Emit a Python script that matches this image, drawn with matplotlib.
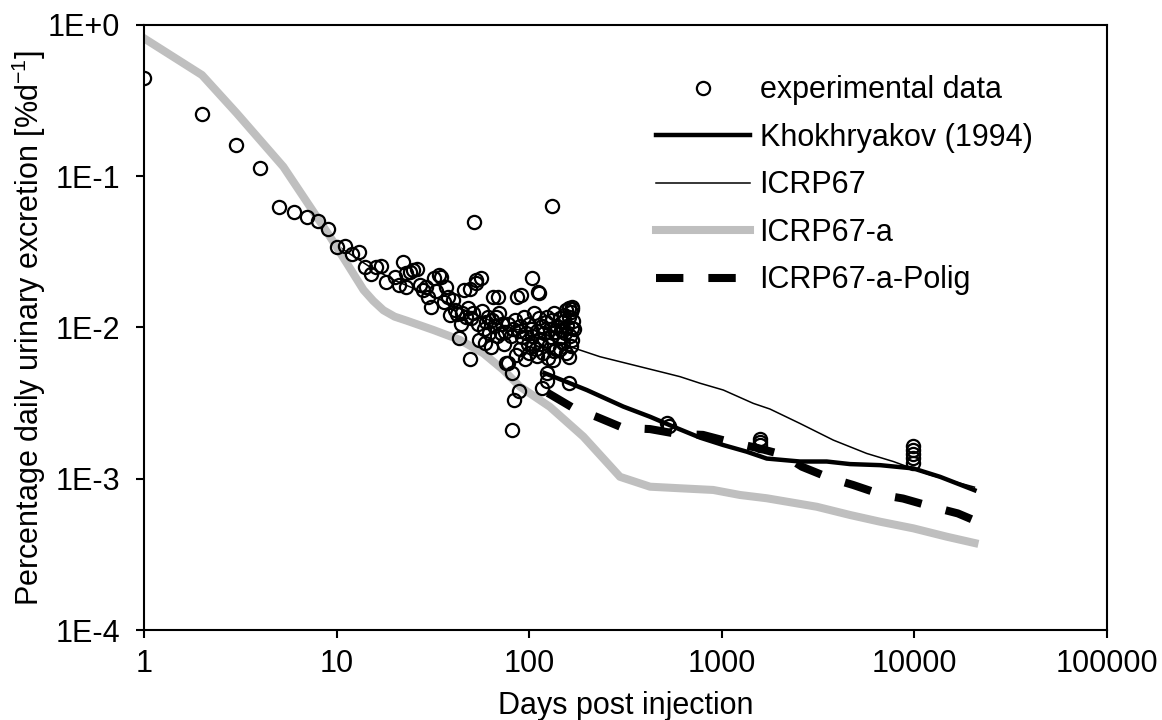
import matplotlib
matplotlib.use("Agg")
import matplotlib.pyplot as plt
from matplotlib.ticker import FixedLocator, FixedFormatter, NullLocator

plt.rcParams["font.family"] = ["Liberation Sans", "DejaVu Sans"]
plt.rcParams["mathtext.fontset"] = "custom"
plt.rcParams["mathtext.rm"] = "Liberation Sans"
plt.rcParams["mathtext.it"] = "Liberation Sans:italic"

# experimental data (days, % per day)
exp_days = [1, 2, 3, 4, 5, 6, 7, 8, 9, 10, 11, 12, 13, 14, 15, 16, 17, 18, 20, 21,
            22, 23, 23, 24, 25, 26, 27, 28, 29, 30, 31, 32, 33, 34, 35, 36, 37, 38,
            39, 40, 41, 42, 43, 44, 45, 46, 47, 48, 49, 49, 50, 51, 52, 53, 53, 54,
            55, 56, 57, 58, 59, 60, 61, 62, 63, 64, 65, 66, 67, 68, 69, 70, 71, 72,
            74, 75, 76, 78, 78, 80, 81, 81, 82, 83, 84, 85, 86, 88, 89, 90, 90, 91,
            92, 94, 95, 96, 98, 100, 100, 102, 104, 104, 105, 106, 108, 110, 110, 111,
            112, 112, 114, 115, 116, 116, 118, 120, 122, 123, 123, 124, 125, 126, 128,
            130, 132, 132, 133, 134, 135, 136, 138, 140, 142, 144, 145, 146, 148, 150,
            152, 154, 155, 156, 158, 160, 160, 160, 160, 162, 164, 165, 166, 166, 166,
            166, 168, 170,
            520, 530, 1580, 1580, 1580, 9800, 9800, 9800, 9800, 9800]
exp_vals = [0.446, 0.258, 0.161, 0.114, 0.063, 0.058, 0.054, 0.0506, 0.0446, 0.0342,
            0.0344, 0.0305, 0.0317, 0.0252, 0.0225, 0.0252, 0.0256, 0.0201, 0.0217,
            0.0191, 0.0272, 0.0186, 0.0228, 0.0234, 0.0240, 0.0245, 0.0191, 0.0177,
            0.0185, 0.0160, 0.0137, 0.0211, 0.0175, 0.0222, 0.0217, 0.0148, 0.0186,
            0.0160, 0.0121, 0.0152, 0.0130, 0.0122, 0.0085, 0.0105, 0.0125, 0.0177,
            0.0118, 0.0135, 0.0062, 0.0181, 0.0115, 0.0124, 0.0500, 0.0196, 0.0206,
            0.0105, 0.0083, 0.0211, 0.0128, 0.0098, 0.0079, 0.0108, 0.0118, 0.0092,
            0.0074, 0.0112, 0.0160, 0.0102, 0.0118, 0.0088, 0.0160, 0.0125, 0.0092,
            0.0105, 0.0078, 0.0093, 0.0058, 0.0105, 0.0058, 0.0088, 0.0050, 0.0021,
            0.0098, 0.0033, 0.0112, 0.0066, 0.0160, 0.0095, 0.0038, 0.0102, 0.0072,
            0.0164, 0.0086, 0.0118, 0.0062, 0.0092, 0.0078, 0.0105, 0.0068, 0.0097,
            0.0213, 0.0088, 0.0075, 0.0125, 0.0072, 0.0095, 0.0065, 0.0172, 0.0115,
            0.0168, 0.0083, 0.0078, 0.0102, 0.0040, 0.0068, 0.0092, 0.0108, 0.0044,
            0.0050, 0.0118, 0.0063, 0.0077, 0.0098, 0.0087, 0.0112, 0.0636, 0.0061,
            0.0125, 0.0070, 0.0094, 0.0072, 0.0101, 0.0085, 0.0115, 0.0072, 0.0096,
            0.0108, 0.0079, 0.0121, 0.0092, 0.0068, 0.0130, 0.0103, 0.0134, 0.0064,
            0.0043, 0.0118, 0.0088, 0.0127, 0.0075, 0.0137, 0.0099, 0.0083, 0.0132,
            0.0110, 0.0098,
            0.00232, 0.00222, 0.00184, 0.00176, 0.00168, 0.00165, 0.00155, 0.00146,
            0.00137, 0.00128]

khok_days = [120, 199, 308, 424, 560, 771, 1018, 1346, 1711, 2546, 3505, 4630,
             6630, 9870, 13580, 20500]
khok_vals = [0.0050, 0.00386, 0.0030, 0.00257, 0.00221, 0.00187, 0.00167, 0.00151,
             0.00136, 0.0013, 0.0013, 0.00125, 0.00123, 0.00117, 0.00103, 0.00084]

icrp_days = [1, 2, 3, 5.3, 7.3, 10, 15, 20, 30, 50, 70, 100, 130, 163, 233, 347,
             517, 607, 771, 1018, 1457, 1778, 2546, 3795, 5650, 7770, 12050, 20500]
icrp_vals = [0.80, 0.455, 0.255, 0.113, 0.0615, 0.035, 0.025, 0.0205, 0.0165,
             0.0125, 0.0105, 0.0092, 0.0083, 0.00746, 0.00641, 0.00565, 0.00498,
             0.00473, 0.00428, 0.00386, 0.00315, 0.00289, 0.00232, 0.0018, 0.00147,
             0.0013, 0.00106, 0.00088]

icrpa_days = [1, 2, 3.03, 5.29, 7.28, 9.24, 11.3, 13.8, 15.5, 17.5, 20, 23.1, 31.8,
              43.7, 57.8, 73.4, 89.6, 128, 191, 296, 424, 607, 903, 1243, 1711, 3110,
              4630, 6630, 9870, 14700, 20500]
icrpa_vals = [0.817, 0.467, 0.261, 0.1156, 0.0629, 0.0399, 0.0266, 0.0177, 0.0150,
              0.0130, 0.0118, 0.0111, 0.00963, 0.00827, 0.00675, 0.00524, 0.00406,
              0.00299, 0.0019, 0.00103, 0.000886, 0.000865, 0.000843, 0.000781,
              0.000743, 0.000653, 0.000576, 0.00052, 0.00047, 0.000414, 0.000376]

polig_days = [125, 169, 225, 307, 424, 585, 798, 1103, 1523, 2080, 2608, 3645, 4800,
              6870, 8730, 12500, 16800, 20500]
polig_vals = [0.00369, 0.00294, 0.00256, 0.00217, 0.00213, 0.00198, 0.00195, 0.00175,
              0.0016, 0.00144, 0.0012, 0.00101, 0.00091, 0.00078, 0.00074, 0.00065,
              0.00059, 0.00053]

xticks = [1, 10, 100, 1000, 10000, 100000]
yticks = [1e-4, 1e-3, 1e-2, 1e-1, 1]
ytick_labels = ["1E-4", "1E-3", "1E-2", "1E-1", "1E+0"]

fig = plt.figure(figsize=(11.62, 7.2), dpi=100)
ax = fig.add_axes([0.1239, 0.125, 0.8288, 0.8403])

ax.plot(icrp_days, icrp_vals, color="black", lw=1.1, zorder=1, label="ICRP67")
ax.plot(icrpa_days, icrpa_vals, color="#BFBFBF", lw=5.8, zorder=2, label="ICRP67-a")
ax.plot(khok_days, khok_vals, color="black", lw=3.2, zorder=3, label="Khokhryakov (1994)")
ax.plot(polig_days, polig_vals, color="black", lw=5.8, ls=(0, (3.4, 3.1)),
        dash_capstyle="butt", zorder=3, label="ICRP67-a-Polig")
ax.plot(exp_days, exp_vals, ls="none", marker="o", ms=9.5, mfc="none", mec="black",
        mew=1.6, zorder=4, label="experimental data")

ax.set_xscale("log")
ax.set_yscale("log")
ax.set_xlim(1, 100000)
ax.set_ylim(1e-4, 1)

ax.xaxis.set_major_locator(FixedLocator(xticks))
ax.xaxis.set_major_formatter(FixedFormatter([str(t) for t in xticks]))
ax.xaxis.set_minor_locator(NullLocator())
ax.yaxis.set_major_locator(FixedLocator(yticks))
ax.yaxis.set_major_formatter(FixedFormatter(ytick_labels))
ax.yaxis.set_minor_locator(NullLocator())

ax.tick_params(direction="out", length=6, width=1.5, labelsize=22)
ax.tick_params(axis="x", pad=8)
ax.tick_params(axis="y", pad=11)
for s in ax.spines.values():
    s.set_linewidth(1.5)

ax.set_xlabel("Days post injection", fontsize=22, labelpad=8)
ax.set_ylabel("Percentage daily urinary excretion [%d$^{-1}$]", fontsize=22)
ax.yaxis.set_label_coords(-0.10, 0.5)

h, l = ax.get_legend_handles_labels()
order = [4, 2, 0, 1, 3]
ax.legend([h[i] for i in order], [l[i] for i in order], loc="upper left",
          bbox_to_anchor=(0.532, 0.917), frameon=False, fontsize=22,
          handlelength=3.05, handletextpad=0.33, labelspacing=0.575,
          borderpad=0, borderaxespad=0, numpoints=1)

fig.savefig("out.png", dpi=100)
